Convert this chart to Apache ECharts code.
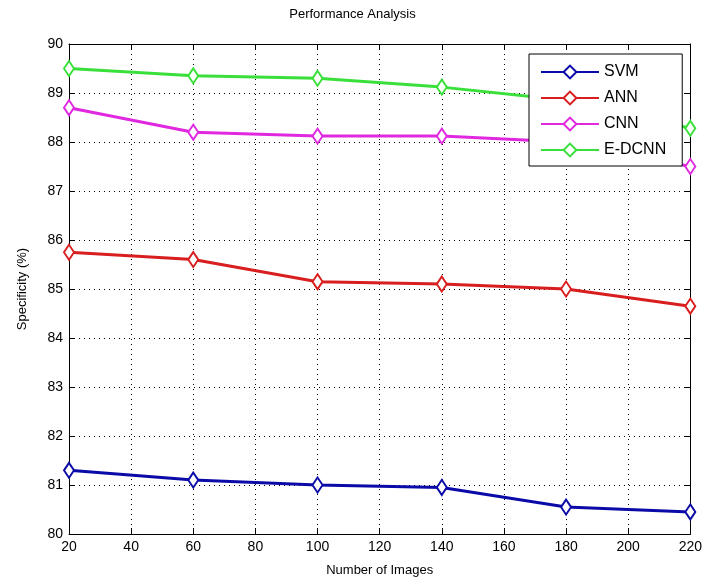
<!DOCTYPE html>
<html>
<head>
<meta charset="utf-8">
<script src="https://cdn.jsdelivr.net/npm/echarts@6/dist/echarts.min.js"></script>
<style>
  html, body { margin: 0; padding: 0; background: #fff; }
  #chart { width: 705px; height: 585px; }
</style>
</head>
<body>
<div id="chart"></div>
<script>
var images = [20, 60, 100, 140, 180, 220];
var svm = [81.3, 81.1, 81.0, 80.95, 80.55, 80.45];
var ann = [85.75, 85.6, 85.15, 85.1, 85.0, 84.65];
var cnn = [88.7, 88.2, 88.12, 88.12, 88.0, 87.5];
var edcnn = [89.5, 89.35, 89.3, 89.12, 88.85, 88.28];

var names = ['SVM', 'ANN', 'CNN', 'E-DCNN'];
var colors = ['#0a0aa8', '#d81e1e', '#e028e0', '#3ae03a'];
var values = [svm, ann, cnn, edcnn];

function pairs(arr) {
    var out = [];
    for (var i = 0; i < images.length; i++) {
        out.push([images[i], arr[i]]);
    }
    return out;
}

var font = 'Liberation Sans';

var series = [];
for (var i = 0; i < names.length; i++) {
    series.push({
        name: names[i],
        type: 'line',
        data: pairs(values[i]),
        symbol: 'emptyDiamond',
        symbolSize: [10, 15],
        lineStyle: {color: colors[i], width: 3},
        itemStyle: {color: colors[i], borderWidth: 2.5},
        emphasis: {disabled: true},
        z: 3
    });
}

var axisLine = {show: true, lineStyle: {color: '#000', width: 1}};
var tickStyle = {show: true, inside: true, length: 6, lineStyle: {color: '#000'}};
var dotted = {show: true, lineStyle: {color: '#000', type: [1, 4], width: 1}};

var option = {
    backgroundColor: '#fff',
    animation: false,
    title: {
        text: 'Performance Analysis',
        left: 'center',
        top: 3,
        textStyle: {fontFamily: font, fontSize: 13, fontWeight: 'normal', color: '#000'}
    },
    legend: {
        data: names,
        orient: 'vertical',
        left: 529,
        top: 54,
        z: 10,
        padding: [10, 16, 8, 11],
        itemGap: 10,
        itemWidth: 58,
        itemHeight: 16,
        borderColor: '#000',
        borderWidth: 1,
        backgroundColor: '#fff',
        textStyle: {fontFamily: font, fontSize: 16, color: '#000'}
    },
    grid: {left: 69, right: 13, top: 44, bottom: 51},
    xAxis: [{
        type: 'value',
        min: 20,
        max: 220,
        interval: 20,
        name: 'Number of Images',
        nameLocation: 'middle',
        nameGap: 30,
        nameTextStyle: {fontFamily: font, fontSize: 13, color: '#000'},
        axisLine: axisLine,
        axisTick: tickStyle,
        axisLabel: {fontFamily: font, fontSize: 14, color: '#000', margin: 6},
        splitLine: dotted
    }, {
        type: 'value',
        position: 'top',
        min: 20,
        max: 220,
        interval: 20,
        axisLine: axisLine,
        axisTick: tickStyle,
        axisLabel: {show: false},
        splitLine: {show: false}
    }],
    yAxis: [{
        type: 'value',
        min: 80,
        max: 90,
        interval: 1,
        name: 'Specificity (%)',
        nameLocation: 'middle',
        nameGap: 40,
        nameTextStyle: {fontFamily: font, fontSize: 13, color: '#000'},
        axisLine: axisLine,
        axisTick: tickStyle,
        axisLabel: {fontFamily: font, fontSize: 14, color: '#000', margin: 6},
        splitLine: dotted
    }, {
        type: 'value',
        position: 'right',
        min: 80,
        max: 90,
        interval: 1,
        axisLine: axisLine,
        axisTick: tickStyle,
        axisLabel: {show: false},
        splitLine: {show: false}
    }],
    series: series
};

var chart = echarts.init(document.getElementById('chart'));
chart.setOption(option);
</script>
</body>
</html>
